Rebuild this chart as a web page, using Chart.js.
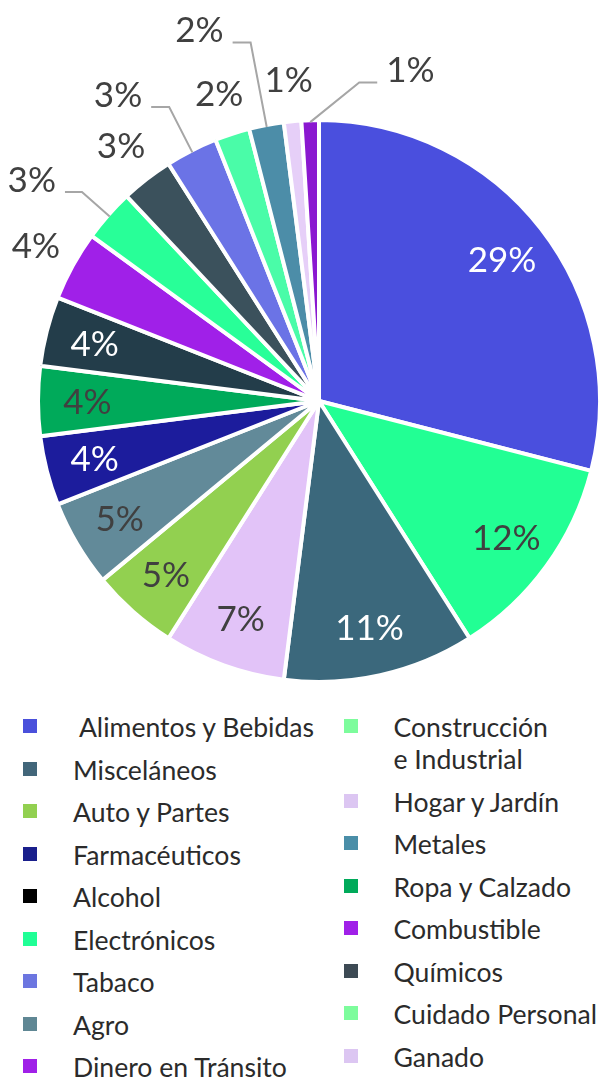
<!DOCTYPE html>
<html>
<head>
<meta charset="utf-8">
<script src="https://cdn.jsdelivr.net/npm/chart.js@4/dist/chart.umd.min.js"></script>
<style>
  body { margin: 0; background: #fff; width: 603px; height: 1080px; overflow: hidden; position: relative; font-family: Lato, sans-serif; }
  #pie { position: absolute; left: 0; top: 0; }
  .legcol { position: absolute; top: 711px; width: 260px; }
  .item { position: relative; line-height: 32px; font-size: 26.6px; color: #2b2b2b; margin-bottom: 10.5px; }
  .item .box { position: absolute; left: 0; top: 8px; width: 14px; height: 14px; }
  .item .txt { position: absolute; top: 0; white-space: pre; }
</style>
</head>
<body>
<canvas id="pie" width="603" height="700"></canvas>
<div id="legend"></div>
<script>
// categorías y participación (%)
const categories = [
  ' Alimentos y Bebidas', 'Construcción\ne Industrial', 'Misceláneos', 'Hogar y Jardín',
  'Auto y Partes', 'Metales', 'Farmacéuticos', 'Ropa y Calzado', 'Alcohol',
  'Combustible', 'Electrónicos', 'Químicos', 'Tabaco', 'Cuidado Personal',
  'Agro', 'Ganado', 'Dinero en Tránsito'
];
const shares = [29, 12, 11, 7, 5, 5, 4, 4, 4, 4, 3, 3, 3, 2, 2, 1, 1];

// colores de las porciones y de la leyenda (la leyenda original no coincide del todo)
const sliceColors = [
  '#4a4fde', '#22ff94', '#3b687c', '#e2c3f8', '#92d050', '#628a99',
  '#1c1c9c', '#00aa5a', '#233d4a', '#a020e8', '#28ff98', '#3b515c',
  '#6b73e6', '#4afca8', '#4c8da8', '#e6cff8', '#8a18d0'
];
const legendColors = [
  '#4a50db', '#7dfc9c', '#42667a', '#dcc6f2', '#92d050', '#4a8ea8',
  '#1a1f8c', '#00aa5a', '#000000', '#a020e8', '#20ff96', '#3d4a54',
  '#6c76e0', '#7dfc9c', '#5f8794', '#dcc6f2', '#a020e8'
];

// dónde va cada etiqueta: dentro, fuera o fuera con línea guía
const labelModes = ['in', 'in', 'in', 'in', 'in', 'in', 'in', 'in', 'in',
  'out', 'callout', 'out', 'callout', 'out', 'callout', 'out', 'callout'];
const darkText = [false, true, false, true, true, true, false, true, false];

const pctLabels = {
  id: 'pctLabels',
  afterDatasetsDraw(chart, args, opts) {
    const ctx = chart.ctx;
    const meta = chart.getDatasetMeta(0);
    const lift = opts.size * 0.36; // mitad de la altura de las cifras
    ctx.save();
    ctx.font = opts.size + 'px Lato';
    ctx.textBaseline = 'alphabetic';
    meta.data.forEach((arc, i) => {
      const p = arc.getProps(['x', 'y', 'startAngle', 'endAngle', 'outerRadius'], true);
      const R = p.outerRadius - 2;
      const mid = (p.startAngle + p.endAngle) / 2;
      const text = shares[i] + '%';
      const mode = labelModes[i];
      if (mode === 'in' || mode === 'out') {
        const r = mode === 'in' ? R * 0.83 : R + 44;
        ctx.textAlign = 'center';
        ctx.fillStyle = mode === 'in' && !darkText[i] ? '#ffffff' : '#404040';
        ctx.fillText(text, p.x + Math.cos(mid) * r, p.y + Math.sin(mid) * r + lift);
        return;
      }
      const c = opts.callouts[i];
      const a2 = mid + (c.turn || 0) * Math.PI / 180;
      const x0 = p.x + Math.cos(mid) * R, y0 = p.y + Math.sin(mid) * R;
      const x1 = p.x + Math.cos(a2) * (R + c.len), y1 = p.y + Math.sin(a2) * (R + c.len);
      const x2 = x1 + c.run;
      ctx.strokeStyle = '#a6a6a6';
      ctx.lineWidth = 2;
      ctx.beginPath();
      ctx.moveTo(x0, y0);
      ctx.lineTo(x1, y1);
      ctx.lineTo(x2, y1);
      ctx.stroke();
      ctx.fillStyle = '#404040';
      ctx.textAlign = c.run < 0 ? 'right' : 'left';
      ctx.fillText(text, x2 + (c.run < 0 ? -9 : 9), y1 - 13 + lift);
    });
    ctx.restore();
  }
};

new Chart(document.getElementById('pie'), {
  type: 'pie',
  data: {
    labels: categories,
    datasets: [{
      data: shares,
      backgroundColor: sliceColors,
      borderColor: '#ffffff',
      borderWidth: 4,
      radius: 281,
      hoverOffset: 0
    }]
  },
  options: {
    responsive: false,
    animation: false,
    layout: { padding: { left: 35, right: 0, top: 102, bottom: 0 } },
    plugins: {
      legend: { display: false },
      tooltip: { enabled: false },
      pctLabels: {
        size: 35,
        callouts: {
          10: { len: 37, run: -17 },
          12: { len: 51, run: -18 },
          14: { len: 86, run: -18 },
          16: { len: 42, turn: 9, run: 18 }
        }
      }
    }
  },
  plugins: [pctLabels]
});

// leyenda en dos columnas (orden por filas, como el original)
const legend = document.getElementById('legend');
[[23, 0, 50], [344, 1, 49.5]].forEach(([left, col, textLeft]) => {
  const colDiv = document.createElement('div');
  colDiv.className = 'legcol';
  colDiv.style.left = left + 'px';
  categories.forEach((name, i) => {
    if (i % 2 !== col) return;
    const item = document.createElement('div');
    item.className = 'item';
    item.style.height = (32 * name.split('\n').length) + 'px';
    const box = document.createElement('span');
    box.className = 'box';
    box.style.background = legendColors[i];
    const txt = document.createElement('span');
    txt.className = 'txt';
    txt.style.left = textLeft + 'px';
    txt.textContent = name;
    item.appendChild(box);
    item.appendChild(txt);
    colDiv.appendChild(item);
  });
  legend.appendChild(colDiv);
});
</script>
</body>
</html>
